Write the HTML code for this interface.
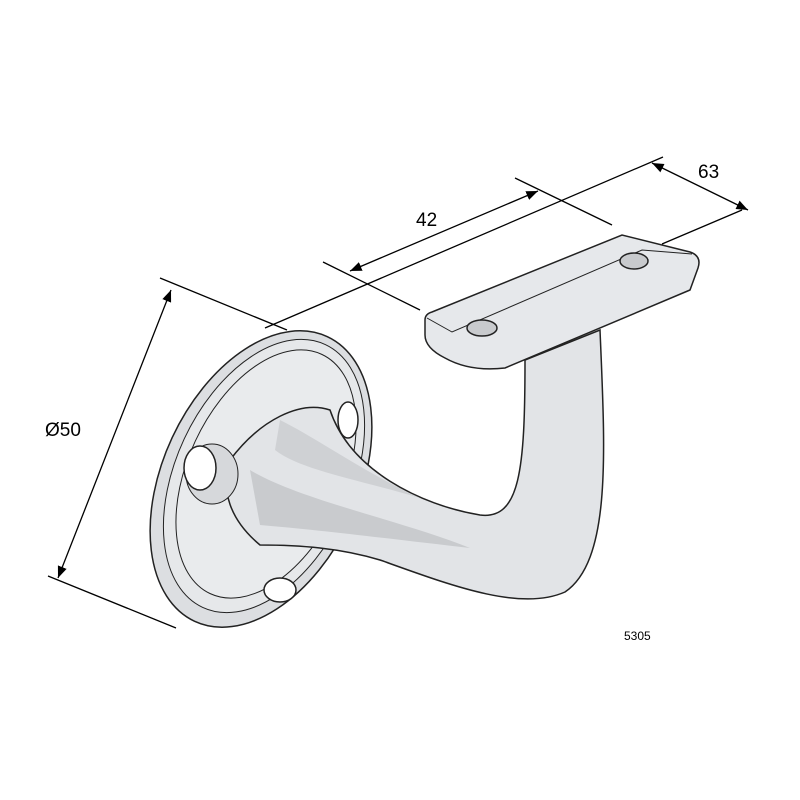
<!DOCTYPE html>
<html><head><style>body{margin:0;background:#fff}svg{display:block}</style></head><body>
<svg width="800" height="800" viewBox="0 0 800 800" xmlns="http://www.w3.org/2000/svg">
<defs><marker id="a" viewBox="0 0 10 10" refX="10" refY="5" markerWidth="9" markerHeight="9" orient="auto-start-reverse"><path d="M0,1 L10,5 L0,9 z" fill="#000"/></marker></defs>
<g stroke="#000" stroke-width="1.3" fill="none">
<line x1="160" y1="278" x2="287" y2="330"/>
<line x1="48" y1="576" x2="176" y2="628"/>
<line x1="171" y1="290" x2="58" y2="578" marker-start="url(#a)" marker-end="url(#a)"/>
<line x1="265" y1="328" x2="663" y2="157"/>
<line x1="323" y1="262" x2="420" y2="310"/>
<line x1="515" y1="178" x2="612" y2="225"/>
<line x1="350" y1="271" x2="538" y2="191" marker-start="url(#a)" marker-end="url(#a)"/>
<line x1="652" y1="163" x2="748" y2="210" marker-start="url(#a)" marker-end="url(#a)"/>
<line x1="662" y1="244" x2="742" y2="210"/>
</g>
<g stroke="#222" stroke-width="1.5">
<ellipse cx="261" cy="479" rx="98" ry="157" transform="rotate(25 261 479)" fill="#dcdee1"/>
<ellipse cx="264" cy="476" rx="88" ry="145" transform="rotate(25 264 476)" fill="#e6e8ea" stroke-width="1"/>
<ellipse cx="266" cy="474" rx="78" ry="132" transform="rotate(25 266 474)" fill="#e9ebed" stroke-width="1"/>
<path d="M230,460 C260,420 300,400 330,410 C350,470 420,505 480,515 C520,520 525,470 525,360 L600,330 C605,450 612,560 565,592 C520,612 450,585 380,560 C340,548 300,545 260,545 C230,520 220,490 230,460 Z" fill="#e2e4e7"/>
<path d="M250,470 C300,500 400,520 470,548 C400,540 320,530 260,525 Z" fill="#c9cbce" stroke="none"/>
<path d="M280,420 C320,440 360,470 420,498 C360,480 300,470 275,450 Z" fill="#cfd1d4" stroke="none"/>
<path d="M425,320 Q425,314 432,312 L622,235 L690,252 Q702,256 698,268 L690,290 L505,368 Q470,372 445,358 Q425,348 425,335 Z" fill="#e6e8eb"/>
<path d="M427,318 L452,332 L642,250 L692,254" fill="none" stroke-width="1"/>
<ellipse cx="482" cy="328" rx="15" ry="8" fill="#c8cacd"/>
<ellipse cx="634" cy="261" rx="14" ry="8" fill="#c8cacd"/>
<ellipse cx="212" cy="474" rx="26" ry="30" fill="#d6d8db" stroke-width="1"/>
<ellipse cx="200" cy="468" rx="16" ry="22" fill="#fff"/>
<ellipse cx="348" cy="420" rx="10" ry="18" fill="#fff"/>
<ellipse cx="280" cy="590" rx="16" ry="12" fill="#fff"/>
</g>
<g font-family="Liberation Sans, sans-serif" fill="#000">
<text x="45" y="436" font-size="19">Ø50</text>
<text x="416" y="226" font-size="19">42</text>
<text x="698" y="178" font-size="19">63</text>
<text x="624" y="640" font-size="12">5305</text>
</g>
</svg>
</body></html>
